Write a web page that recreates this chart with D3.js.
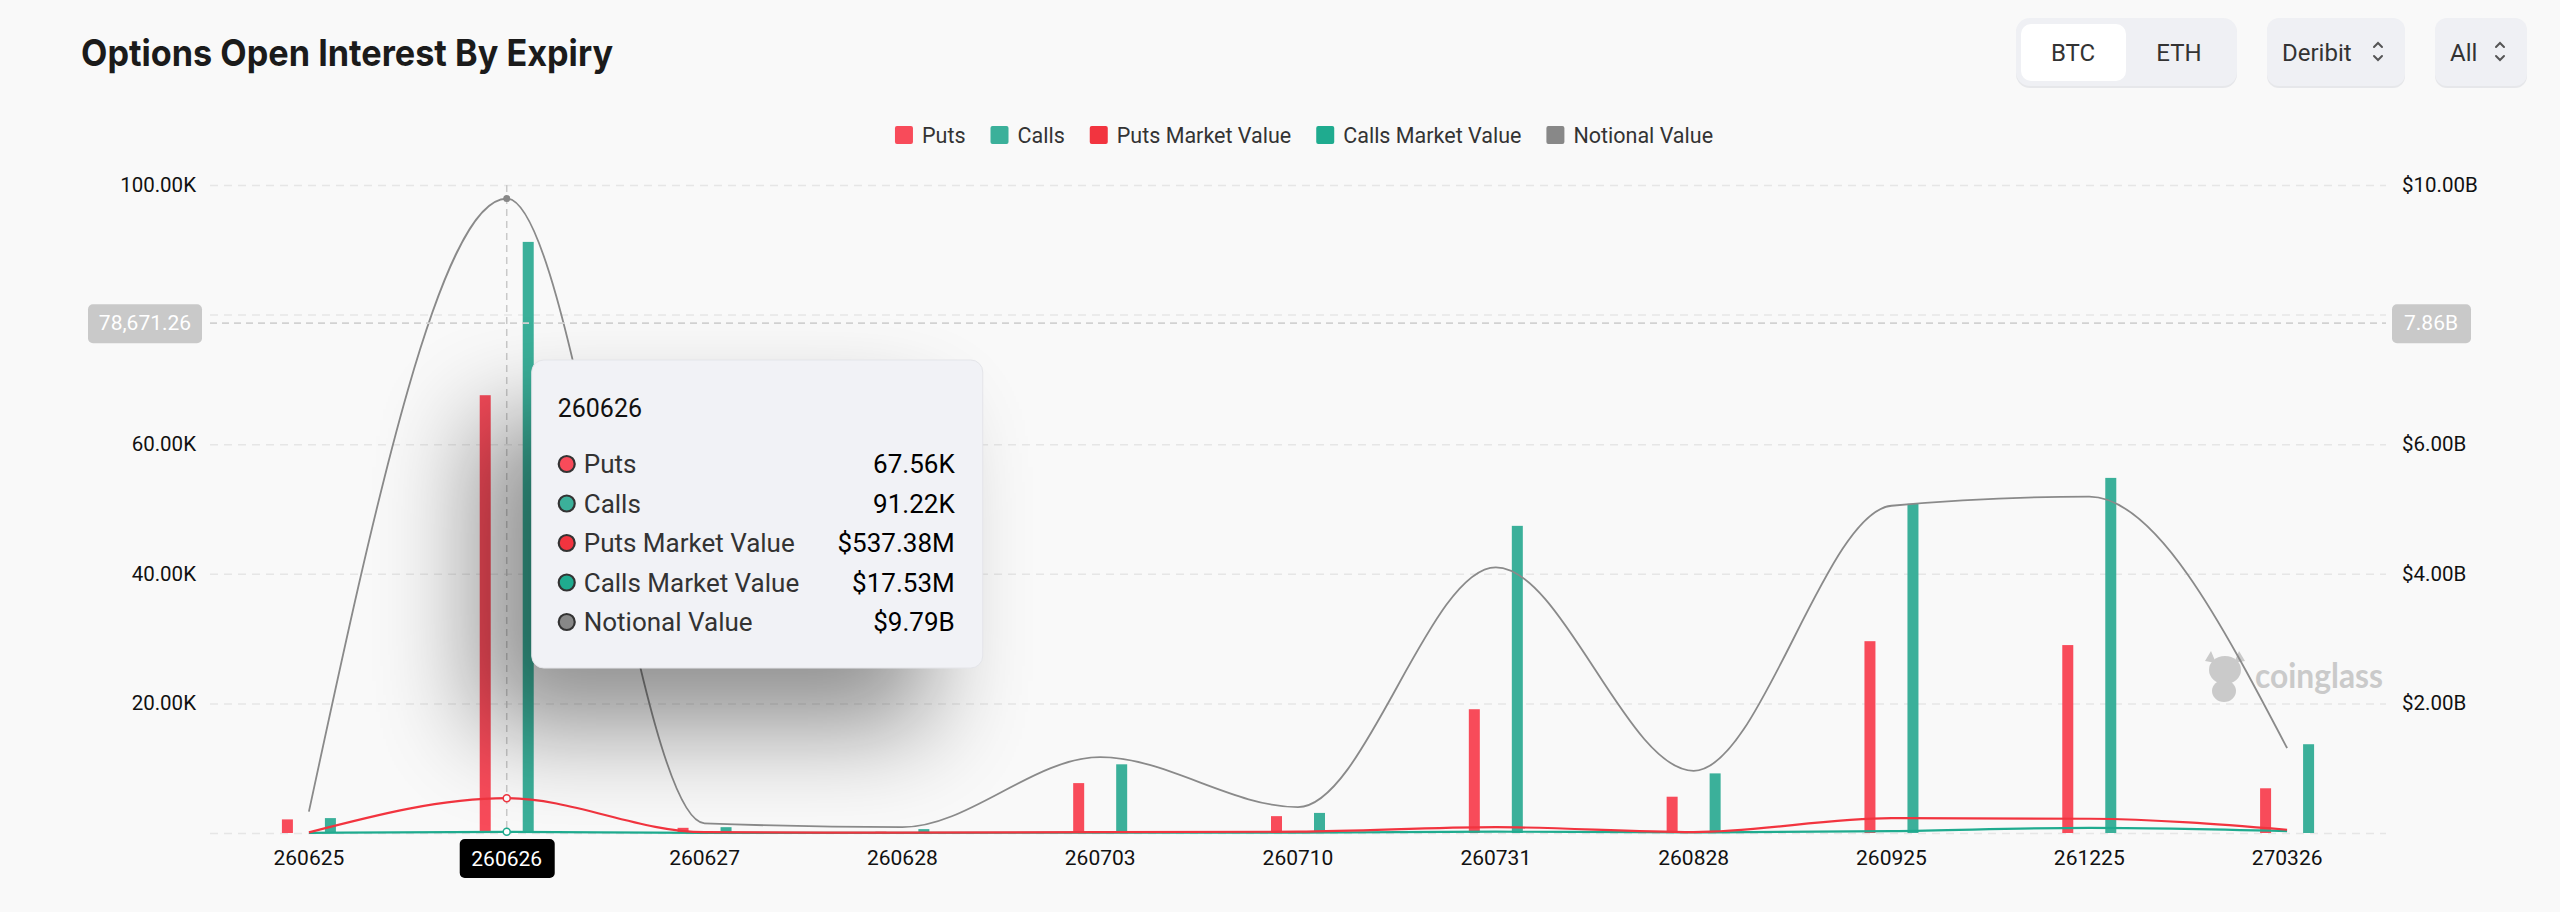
<!DOCTYPE html>
<html>
<head>
<meta charset="utf-8">
<script src="https://cdn.jsdelivr.net/npm/d3@7"></script>
<style>
	body { margin:0; background:#f9f9f9; }
	svg { display:block; }
</style>
</head>
<body>
<svg id="chart" width="2560" height="912"></svg>
<script>
// expiries (x categories)
const expiries = ['260625','260626','260627','260628','260703','260710','260731','260828','260925','261225','270326'];
// open interest, in K contracts (left axis)
const puts  = [2.1, 67.56, 0.8, 0.2, 7.7, 2.6, 19.1, 5.6, 29.6, 29.0, 6.9];
const calls = [2.3, 91.22, 0.9, 0.6, 10.6, 3.1, 47.4, 9.2, 50.8, 54.8, 13.7];
// market values and notional, in $B (right axis)
const putsMV   = [0.01, 0.53738, 0.012, 0.006, 0.012, 0.02, 0.09, 0.015, 0.23, 0.22, 0.05];
const callsMV  = [0.002, 0.01753, 0.002, 0.002, 0.005, 0.004, 0.02, 0.01, 0.03, 0.08, 0.03];
const notional = [0.33, 9.79, 0.15, 0.09, 1.17, 0.40, 4.1, 0.96, 5.05, 5.19, 1.31];

const leftTicks  = [0, 20, 40, 60, 80, 100];
const rightTicks = [0, 2, 4, 6, 8, 10];
const legendNames = ['Puts','Calls','Puts Market Value','Calls Market Value','Notional Value'];
const legendColors = ['#f84b5a','#3bb09a','#f2343f','#1fab8f','#888888'];

const activeIndex = 1;                  // hovered expiry
const pointerLeft = '78,671.26';        // crosshair labels
const pointerRight = '7.86B';
const pointerValue = 78.67126;

const FONT = 'Roboto, "Noto Sans", sans-serif';
const svg = d3.select('#chart');

const plot = {left:210, right:2386, top:185, bottom:833};

const x = d3.scaleBand().domain(expiries).range([plot.left, plot.right]);
const cx = d => x(d) + x.bandwidth()/2;
const yL = d3.scaleLinear().domain([0,100]).range([plot.bottom, plot.top]);
const yR = d3.scaleLinear().domain([0,10]).range([plot.bottom, plot.top]);

// ---- header ----
svg.append('text')
	.attr('x',81).attr('y',66)
	.attr('font-family','Inter, Roboto, sans-serif')
	.attr('font-weight',700)
	.attr('font-size',37)
	.attr('fill','#1b1b1b')
	.attr('textLength',532)
	.attr('lengthAdjust','spacingAndGlyphs')
	.text('Options Open Interest By Expiry');

const ctl = svg.append('g').attr('font-family',FONT).attr('font-size',24).attr('fill','#333');
ctl.append('rect').attr('x',2016).attr('y',20).attr('width',221).attr('height',68).attr('rx',14).attr('fill','#e6e7ea');
ctl.append('rect').attr('x',2016).attr('y',18).attr('width',221).attr('height',68).attr('rx',14).attr('fill','#eff0f4');
ctl.append('rect').attr('x',2021).attr('y',24).attr('width',105).attr('height',57).attr('rx',10).attr('fill','#ffffff');
ctl.append('text').attr('x',2073).attr('y',61).attr('text-anchor','middle').text('BTC');
ctl.append('text').attr('x',2179).attr('y',61).attr('text-anchor','middle').text('ETH');

function selectBox(x0, w, label, chevX) {
	ctl.append('rect').attr('x',x0).attr('y',20).attr('width',w).attr('height',68).attr('rx',12).attr('fill','#e6e7ea');
	ctl.append('rect').attr('x',x0).attr('y',18).attr('width',w).attr('height',68).attr('rx',12).attr('fill','#eff0f4');
	ctl.append('text').attr('x',x0+15).attr('y',61).text(label);
	ctl.append('path')
		.attr('d',`M${chevX-4},${47} L${chevX},${43} L${chevX+4},${47} M${chevX-4},${56} L${chevX},${60} L${chevX+4},${56}`)
		.attr('fill','none').attr('stroke','#555').attr('stroke-width',2).attr('stroke-linecap','round');
}
selectBox(2267, 138, 'Deribit', 2378);
selectBox(2435, 92, 'All', 2500);

// ---- legend ----
const legend = svg.append('g').attr('font-family',FONT).attr('font-size',21.5).attr('fill','#333');
let lx = 0;
const items = legend.selectAll('g').data(legendNames).enter().append('g');
items.append('rect').attr('y',126).attr('width',18).attr('height',18).attr('rx',2)
	.attr('fill',(d,i)=>legendColors[i]);
items.append('text').attr('x',27).attr('y',143).text(d=>d);
items.each(function() {
	const g = d3.select(this);
	g.attr('transform',`translate(${lx},0)`);
	lx += 27 + g.select('text').node().getComputedTextLength() + 25;
});
legend.attr('transform',`translate(${1304 - (lx-25)/2},0)`);

// ---- axes & grid ----
// labels at 0 and at the pointer's level are not shown (covered by the pointer labels)
const axisL = d3.axisLeft(yL)
	.tickValues(leftTicks)
	.tickFormat(d => (d === 0 || d === 80) ? '' : d.toFixed(2)+'K')
	.tickSize(-(plot.right-plot.left))
	.tickPadding(14);
const gL = svg.append('g').attr('transform',`translate(${plot.left},0)`).call(axisL);
gL.select('.domain').remove();
gL.selectAll('line').attr('stroke','#e6e6e6').attr('stroke-width',1.5).attr('stroke-dasharray','8,6');
gL.selectAll('text').attr('font-family',FONT).attr('font-size',20.5).attr('fill','#111');

const axisR = d3.axisRight(yR)
	.tickValues(rightTicks)
	.tickFormat(d => (d === 0 || d === 8) ? '' : '$'+d.toFixed(2)+'B')
	.tickSize(0)
	.tickPadding(16);
const gR = svg.append('g').attr('transform',`translate(${plot.right},0)`).call(axisR);
gR.select('.domain').remove();
gR.selectAll('text').attr('font-family',FONT).attr('font-size',20.5).attr('fill','#111');

// watermark
const wm = svg.append('g').attr('fill','#cacaca');
wm.append('ellipse').attr('cx',2225).attr('cy',670).attr('rx',16).attr('ry',14);
wm.append('path').attr('d','M2205,661 L2211,651 L2216,663 Z M2245,661 L2239,651 L2234,663 Z');
wm.append('ellipse').attr('cx',2224).attr('cy',691).attr('rx',12).attr('ry',11);
wm.append('text').attr('x',2255).attr('y',688)
	.attr('font-family','Lato, "Open Sans", sans-serif').attr('font-weight',700).attr('font-size',34)
	.attr('textLength',128).attr('lengthAdjust','spacingAndGlyphs')
	.text('coinglass');

// ---- bars ----
const barW = 11, barOff = 21.5;
svg.append('g').selectAll('rect').data(expiries).enter().append('rect')
	.attr('x',(d)=>cx(d)-barOff-barW/2)
	.attr('y',(d,i)=>yL(puts[i]))
	.attr('width',barW)
	.attr('height',(d,i)=>yL(0)-yL(puts[i]))
	.attr('fill','#f84b5a');
svg.append('g').selectAll('rect').data(expiries).enter().append('rect')
	.attr('x',(d)=>cx(d)+barOff-barW/2)
	.attr('y',(d,i)=>yL(calls[i]))
	.attr('width',barW)
	.attr('height',(d,i)=>yL(0)-yL(calls[i]))
	.attr('fill','#3bb09a');

// ---- lines ----
const line = d3.line()
	.x((d,i)=>cx(expiries[i]))
	.y(d=>yR(d))
	.curve(d3.curveMonotoneX);
svg.append('path').attr('d',line(callsMV)).attr('fill','none').attr('stroke','#1fab8f').attr('stroke-width',2.2);
svg.append('path').attr('d',line(putsMV)).attr('fill','none').attr('stroke','#f2343f').attr('stroke-width',2.2);
svg.append('path').attr('d',line(notional)).attr('fill','none').attr('stroke','#8a8a8a').attr('stroke-width',1.8);

// ---- crosshair ----
const ax = cx(expiries[activeIndex]);
const py = yL(pointerValue);
svg.append('line').attr('x1',ax).attr('x2',ax).attr('y1',plot.top).attr('y2',plot.bottom)
	.attr('stroke','#c9c9c9').attr('stroke-width',1.5).attr('stroke-dasharray','7,5');
svg.append('line').attr('x1',plot.left).attr('x2',plot.right).attr('y1',py).attr('y2',py)
	.attr('stroke','#d2d2d2').attr('stroke-width',1.8).attr('stroke-dasharray','7,5');

svg.append('circle').attr('cx',ax).attr('cy',yR(notional[activeIndex])).attr('r',3.5).attr('fill','#888');
svg.append('circle').attr('cx',ax).attr('cy',yR(putsMV[activeIndex])).attr('r',3.5).attr('fill','#fff').attr('stroke','#f2343f').attr('stroke-width',1.5);
svg.append('circle').attr('cx',ax).attr('cy',yR(callsMV[activeIndex])).attr('r',3.5).attr('fill','#fff').attr('stroke','#1fab8f').attr('stroke-width',1.5);

const pl = svg.append('g').attr('font-family',FONT).attr('font-size',21);
pl.append('rect').attr('x',88).attr('y',py-19).attr('width',114).attr('height',39).attr('rx',5).attr('fill','#c9c9c9');
pl.append('text').attr('x',145).attr('y',py+7).attr('text-anchor','middle').attr('fill','#fff').text(pointerLeft);
pl.append('rect').attr('x',2392).attr('y',py-19).attr('width',79).attr('height',39).attr('rx',5).attr('fill','#c9c9c9');
pl.append('text').attr('x',2431).attr('y',py+7).attr('text-anchor','middle').attr('fill','#fff').text(pointerRight);

// ---- x axis ----
const axisB = d3.axisBottom(x).tickSize(0).tickPadding(17);
const gB = svg.append('g').attr('transform',`translate(0,${plot.bottom})`).call(axisB);
gB.select('.domain').remove();
gB.selectAll('text').attr('font-family',FONT).attr('font-size',21).attr('fill','#111')
	.attr('opacity',(d,i)=> i === activeIndex ? 0 : 1);

// ---- tooltip shadow ----
const tip = {x: ax+25, y:360, w:451, h:308};
const defs = svg.append('defs');
defs.append('filter').attr('id','blur').attr('x','-60%').attr('y','-60%').attr('width','220%').attr('height','220%')
	.append('feGaussianBlur').attr('stdDeviation',50);
svg.append('rect')
	.attr('x',tip.x-55).attr('y',tip.y+60).attr('width',tip.w).attr('height',tip.h)
	.attr('fill','#000').attr('opacity',0.42).attr('filter','url(#blur)');

// active x label
const activeG = svg.append('g').attr('font-family',FONT).attr('font-size',21);
activeG.append('rect').attr('x',ax-47).attr('y',839).attr('width',95).attr('height',39).attr('rx',5).attr('fill','#000');
activeG.append('text').attr('x',ax).attr('y',866).attr('text-anchor','middle').attr('fill','#fff').text(expiries[activeIndex]);

// ---- tooltip ----
const tg = svg.append('g').attr('font-family',FONT);
tg.append('rect').attr('x',tip.x).attr('y',tip.y).attr('width',tip.w).attr('height',tip.h).attr('rx',12)
	.attr('fill','#f1f2f6').attr('stroke','#e4e5e9').attr('stroke-width',1);
tg.append('text').attr('x',tip.x+26).attr('y',tip.y+57).attr('font-size',25).attr('fill','#111').text(expiries[activeIndex]);

const fmtK = v => v.toFixed(2)+'K';
const fmtM = v => '$'+(v*1000).toFixed(2)+'M';
const fmtB = v => '$'+v.toFixed(2)+'B';
const rows = [
	[legendNames[0], legendColors[0], fmtK(puts[activeIndex])],
	[legendNames[1], legendColors[1], fmtK(calls[activeIndex])],
	[legendNames[2], legendColors[2], fmtM(putsMV[activeIndex])],
	[legendNames[3], legendColors[3], fmtM(callsMV[activeIndex])],
	[legendNames[4], legendColors[4], fmtB(notional[activeIndex])]
];
const row = tg.selectAll('g.row').data(rows).enter().append('g').attr('class','row')
	.attr('transform',(d,i)=>`translate(${tip.x},${tip.y+113+i*39.5})`);
row.append('circle').attr('cx',35).attr('cy',-9).attr('r',8).attr('fill',d=>d[1]).attr('stroke','#333').attr('stroke-width',2.2);
row.append('text').attr('x',52).attr('font-size',26).attr('fill','#333').text(d=>d[0]);
row.append('text').attr('x',423).attr('text-anchor','end').attr('font-size',26).attr('fill','#000').text(d=>d[2]);
</script>
</body>
</html>
